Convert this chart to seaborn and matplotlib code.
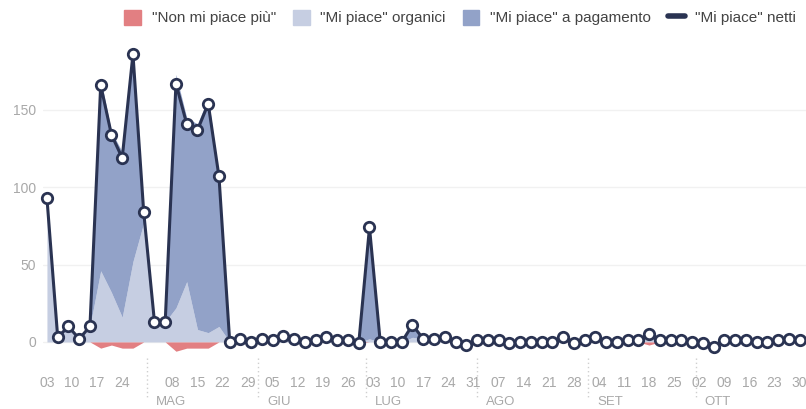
import pandas as pd
import numpy as np
import matplotlib.pyplot as plt
import matplotlib.dates as mdates
import matplotlib.transforms as mtransforms
from matplotlib.patches import Patch
from matplotlib.lines import Line2D
import seaborn as sns

# Dati: un punto ogni 3 giorni dal 3 aprile al 30 ottobre
dates = pd.date_range('2017-04-03', periods=71, freq='3D')

net = [93, 3, 10, 2, 10, 166, 134, 119, 186, 84, 13, 13, 167, 141, 137, 154, 107,
       0, 2, 0, 2, 1, 4, 2, 0, 1, 3,
       1, 1, -1, 74, 0, 0, 0, 11, 2, 2,
       3, 0, -2, 1, 1, 1, -1, 0, 0, 0,
       0, 3, -1, 1, 3, 0, 0, 1, 1, 5,
       1, 1, 1, 0, -1, -3, 1, 1, 1, 0,
       0, 1, 2, 1]

organic = [93, 3, 10, 2, 10, 46, 32, 16, 52, 77, 13, 13, 22, 39, 8, 6, 10,
           0, 2, 0, 2, 1, 4, 2, 0, 1, 3,
           1, 1, 0, 2, 0, 0, 0, 3, 2, 2,
           3, 0, 0, 1, 1, 1, 0, 0, 0, 0,
           0, 3, 0, 1, 3, 0, 0, 1, 1, 7,
           1, 1, 1, 0, 0, 0, 1, 1, 1, 0,
           0, 1, 2, 1]

paid = [0, 0, 0, 0, 0, 124, 104, 107, 138, 7, 0, 0, 151, 106, 133, 152, 97,
        0, 0, 0, 0, 0, 0, 0, 0, 0, 0,
        0, 0, 0, 72, 0, 0, 0, 8, 0, 0,
        0, 0, 0, 0, 0, 0, 0, 0, 0, 0,
        0, 0, 0, 0, 0, 0, 0, 0, 0, 0,
        0, 0, 0, 0, 0, 0, 0, 0, 0, 0,
        0, 0, 0, 0]

unlikes = [0, 0, 0, 0, 0, 4, 2, 4, 4, 0, 0, 0, 6, 4, 4, 4, 0,
           0, 0, 0, 0, 0, 0, 0, 0, 0, 0,
           0, 0, 1, 0, 0, 0, 0, 0, 0, 0,
           0, 0, 2, 0, 0, 0, 1, 0, 0, 0,
           0, 0, 1, 0, 0, 0, 0, 0, 0, 2,
           0, 0, 0, 0, 1, 3, 0, 0, 0, 0,
           0, 0, 0, 0]

month_starts = pd.to_datetime(['2017-05-01', '2017-06-01', '2017-07-01',
                               '2017-08-01', '2017-09-01', '2017-10-01'])
month_names = ['MAG', 'GIU', 'LUG', 'AGO', 'SET', 'OTT']
week_ticks = pd.date_range('2017-04-03', '2017-10-30', freq='7D')

legend_labels = ['"Non mi piace più"', '"Mi piace" organici',
                 '"Mi piace" a pagamento', '"Mi piace" netti']

c_red = '#e27f82'
c_org = '#c6cee2'
c_paid = '#92a2c8'
c_line = '#2a3352'
c_tick = '#a8a8a8'

sns.set_style('white')
plt.rcParams['font.family'] = ['Liberation Sans', 'DejaVu Sans']

fig = plt.figure(figsize=(8.06, 4.09), dpi=100)
ax = fig.add_axes([43 / 806, 1 - 352 / 409, (806 - 43) / 806, (352 - 45) / 409])

df = pd.DataFrame({'data': dates, 'netti': net, 'organici': organic,
                   'pagamento': paid, 'nonpiace': unlikes})

ax.stackplot(df['data'], df['organici'], df['pagamento'],
             colors=[c_org, c_paid], lw=0, zorder=2)
ax.fill_between(df['data'], -df['nonpiace'], 0, color=c_red, lw=0, zorder=2)

sns.lineplot(data=df, x='data', y='netti', ax=ax, color=c_line, lw=2.2,
             marker='o', markersize=7.5, markerfacecolor='white',
             markeredgecolor=c_line, markeredgewidth=2, zorder=5, clip_on=False)

x0 = mdates.date2num(pd.Timestamp('2017-04-03'))
ax.set_xlim(x0 - 1.1, x0 + 211.8)
ax.set_ylim(-6.5, 192)

# griglia leggera
ax.set_yticks([0, 50, 100, 150])
ax.grid(axis='y', color='#f1f1f1', lw=1, zorder=0)
ax.grid(axis='x', visible=False)
ax.tick_params(axis='y', length=0, pad=5, labelsize=10, labelcolor=c_tick)

# asse x: etichette settimanali
ax.spines['bottom'].set_position(('outward', 5))
ax.set_xticks(week_ticks)
ax.set_xticklabels(['' if d.day == 1 else d.strftime('%d') for d in week_ticks])
ax.tick_params(axis='x', length=4, width=1, color='#dcdcdc', pad=8,
               labelsize=10, labelcolor=c_tick)
for s in ax.spines.values():
    s.set_visible(False)
ax.set_xlabel('')
ax.set_ylabel('')

# separatori dei mesi
trans = mtransforms.blended_transform_factory(ax.transData, ax.transAxes)
for d, name in zip(month_starts, month_names):
    ax.plot([d, d], [-0.02, -0.145], transform=trans, color='#cfcfcf', lw=1,
            ls=(0, (1, 2)), clip_on=False)
    ax.text(mdates.date2num(d) + 2.5, -0.163, name, transform=trans,
            ha='left', va='center', fontsize=9.5, color=c_tick)

handles = [Patch(color=c_red), Patch(color=c_org), Patch(color=c_paid),
           Line2D([0], [0], color=c_line, lw=4, solid_capstyle='round')]
fig.legend(handles, legend_labels, loc='upper right', bbox_to_anchor=(1.0, 1.0),
           ncol=4, frameon=False, fontsize=11, handlelength=1.1, handleheight=1.1,
           handletextpad=0.7, columnspacing=1.1, labelcolor='#444444',
           borderaxespad=0.25)

fig.savefig('out.png', dpi=100)
